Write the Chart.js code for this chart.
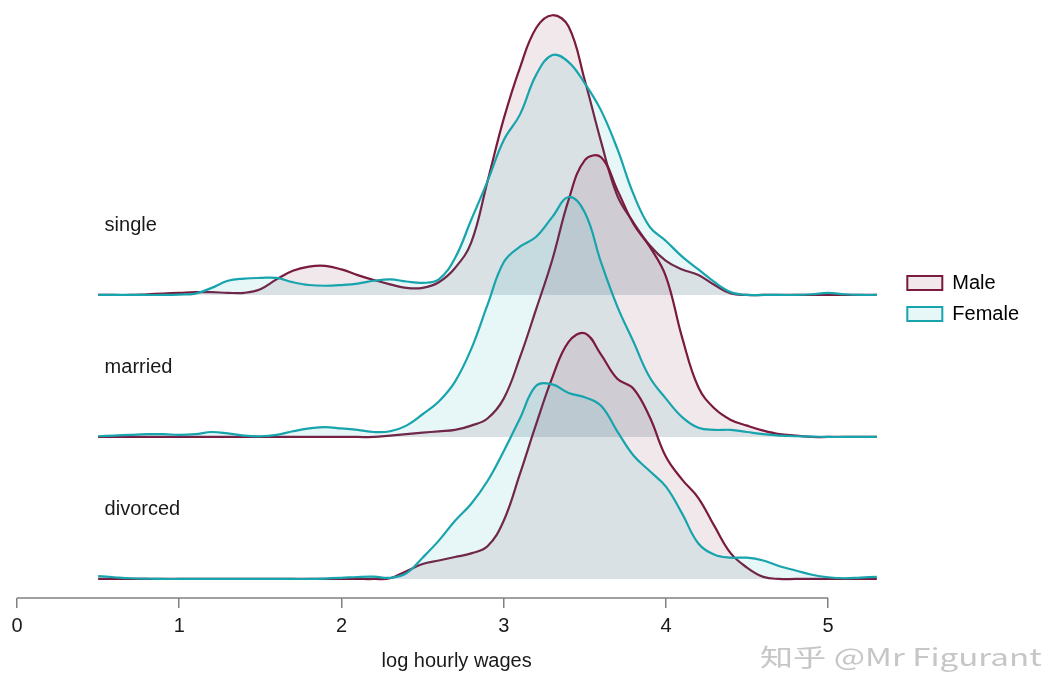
<!DOCTYPE html>
<html>
<head>
<meta charset="utf-8">
<script src="https://cdn.jsdelivr.net/npm/chart.js@4.4.0/dist/chart.umd.min.js"></script>
<style>
  html, body { margin: 0; padding: 0; background: #fff; }
  canvas { display: block; }
</style>
</head>
<body>
<canvas id="chart" width="1050" height="675"></canvas>
<script>
// log hourly wage grid (x positions of the density estimates)
const wages = [0.5, 0.6, 0.7, 0.8, 0.9, 1.0, 1.1, 1.2, 1.3, 1.4,
  1.5, 1.6, 1.7, 1.8, 1.9, 2.0, 2.1, 2.2, 2.3, 2.4,
  2.5, 2.6, 2.7, 2.8, 2.9, 3.0, 3.1, 3.2, 3.3, 3.4,
  3.5, 3.6, 3.7, 3.8, 3.9, 4.0, 4.1, 4.2, 4.3, 4.4,
  4.5, 4.6, 4.7, 4.8, 4.9, 5.0, 5.1, 5.2, 5.3];

const groups = ["single", "married", "divorced"];
const groupOffsets = [2, 1, 0];
const xTicks = [0, 1, 2, 3, 4, 5];

// density heights (one ridge spacing = 1)
const singleMale = [0, 0, 0, 0.005, 0.01, 0.015, 0.02, 0.02, 0.015, 0.015,
  0.04, 0.11, 0.17, 0.2, 0.205, 0.18, 0.14, 0.105, 0.075, 0.05,
  0.05, 0.09, 0.19, 0.37, 0.8, 1.24, 1.6, 1.88, 1.97, 1.89,
  1.51, 1.08, 0.7, 0.51, 0.35, 0.24, 0.18, 0.14, 0.07, 0.01,
  0, 0, 0, 0, 0, 0, 0, 0, 0];
const singleFemale = [0, 0, 0, 0, 0, 0.003, 0.01, 0.05, 0.1, 0.115,
  0.12, 0.12, 0.09, 0.07, 0.065, 0.07, 0.08, 0.1, 0.11, 0.095,
  0.085, 0.11, 0.26, 0.53, 0.8, 1.09, 1.27, 1.55, 1.69, 1.64,
  1.49, 1.3, 1.03, 0.71, 0.48, 0.38, 0.27, 0.18, 0.09, 0.02,
  0, 0, 0, 0, 0.005, 0.015, 0.005, 0, 0];
const marriedMale = [0, 0, 0, 0, 0, 0, 0, 0, 0, 0,
  0, 0, 0, 0, 0, 0, 0, 0, 0.01, 0.02,
  0.03, 0.04, 0.05, 0.08, 0.13, 0.27, 0.56, 0.9, 1.25, 1.67,
  1.95, 1.97, 1.74, 1.5, 1.34, 1.13, 0.7, 0.35, 0.2, 0.12,
  0.08, 0.045, 0.02, 0.01, 0, 0, 0, 0, 0];
const marriedFemale = [0.005, 0.01, 0.015, 0.02, 0.02, 0.015, 0.02, 0.035, 0.025, 0.01,
  0.005, 0.015, 0.04, 0.06, 0.07, 0.06, 0.05, 0.035, 0.04, 0.08,
  0.16, 0.25, 0.39, 0.62, 0.93, 1.23, 1.34, 1.41, 1.55, 1.69,
  1.58, 1.23, 0.92, 0.67, 0.42, 0.27, 0.14, 0.065, 0.05, 0.05,
  0.035, 0.02, 0.01, 0.005, 0.003, 0, 0, 0, 0];
const divorcedMale = [0, 0, 0, 0, 0, 0, 0, 0, 0, 0,
  0, 0, 0, 0, 0, 0, 0, 0, 0.005, 0.055,
  0.105, 0.13, 0.155, 0.18, 0.23, 0.41, 0.74, 1.09, 1.42, 1.67,
  1.73, 1.58, 1.41, 1.34, 1.14, 0.86, 0.7, 0.57, 0.37, 0.18,
  0.08, 0.015, 0, 0, 0, 0, 0, 0, 0];
const divorcedFemale = [0.02, 0.012, 0.005, 0.002, 0, 0, 0, 0, 0, 0,
  0, 0, 0, 0, 0.003, 0.008, 0.014, 0.016, 0.008, 0.04,
  0.15, 0.27, 0.41, 0.53, 0.69, 0.9, 1.13, 1.36, 1.37, 1.31,
  1.28, 1.22, 1.04, 0.87, 0.76, 0.65, 0.46, 0.25, 0.17, 0.15,
  0.15, 0.13, 0.09, 0.06, 0.03, 0.012, 0.005, 0.01, 0.015];

const maleSeries = [singleMale, marriedMale, divorcedMale];
const femaleSeries = [singleFemale, marriedFemale, divorcedFemale];

const maleColor = "#7a1a3e";
const femaleColor = "#17a4ad";
const maleFill = "rgba(122, 26, 62, 0.1)";
const femaleFill = "rgba(23, 164, 173, 0.1)";
const textColor = "#1a1a1a";
const axisColor = "#808080";
const font = '"Liberation Sans", Arial, sans-serif';

function ridge(label, vals, off, color, fill, order) {
  return {
    label: label,
    data: wages.map((w, i) => ({ x: w, y: off + vals[i] })),
    borderColor: color,
    backgroundColor: fill,
    borderWidth: 2.2,
    pointRadius: 0,
    tension: 0.4,
    fill: { value: off },
    order: order
  };
}

const datasets = [];
groups.forEach((g, i) => {
  const off = groupOffsets[i];
  datasets.push(ridge("Male", maleSeries[i], off, maleColor, maleFill, 6 - 2 * i));
  datasets.push(ridge("Female", femaleSeries[i], off, femaleColor, femaleFill, 5 - 2 * i));
});

// axis line from first to last tick, ridge names, watermark
const extras = {
  id: "extras",
  afterLayout(chart) {
    // nudge legend up a little
    chart.legend.top -= 3;
    chart.legend.bottom -= 3;
  },
  afterDraw(chart) {
    const { ctx, chartArea } = chart;
    const x = chart.scales.x, y = chart.scales.y;
    ctx.save();
    ctx.strokeStyle = axisColor;
    ctx.lineWidth = 1.5;
    ctx.beginPath();
    ctx.moveTo(x.getPixelForValue(xTicks[0]), chartArea.bottom);
    ctx.lineTo(x.getPixelForValue(xTicks[xTicks.length - 1]), chartArea.bottom);
    ctx.stroke();

    ctx.fillStyle = textColor;
    ctx.font = "20px " + font;
    ctx.textAlign = "left";
    ctx.textBaseline = "alphabetic";
    groups.forEach((g, i) => {
      ctx.fillText(g, x.getPixelForValue(0.54), y.getPixelForValue(groupOffsets[i] + 0.45));
    });

    ctx.translate(760, 666);
    ctx.scale(1.38, 1);
    ctx.font = '24px "Noto Sans CJK SC", sans-serif';
    ctx.fillStyle = "#c6c6c6";
    ctx.fillText("知乎 @Mr Figurant", 0, 0);
    ctx.restore();
  }
};

new Chart(document.getElementById("chart").getContext("2d"), {
  type: "line",
  data: { datasets: datasets },
  options: {
    responsive: false,
    animation: false,
    layout: { padding: { left: 17, right: 21, top: 5, bottom: 0 } },
    plugins: {
      tooltip: { enabled: false },
      legend: {
        position: "right",
        fullSize: false,
        labels: {
          boxWidth: 35,
          boxHeight: 14,
          padding: 11,
          color: textColor,
          font: { size: 20, family: font },
          generateLabels: () => [
            { text: "Male", fillStyle: maleFill, strokeStyle: maleColor, lineWidth: 2, hidden: false, datasetIndex: 0 },
            { text: "Female", fillStyle: femaleFill, strokeStyle: femaleColor, lineWidth: 2, hidden: false, datasetIndex: 1 }
          ]
        }
      }
    },
    scales: {
      x: {
        type: "linear",
        min: 0,
        max: 5.42,
        afterBuildTicks: s => { s.ticks = xTicks.map(v => ({ value: v })); },
        border: { display: false },
        grid: { drawOnChartArea: false, drawTicks: true, tickLength: 10, color: axisColor, lineWidth: 1.5 },
        ticks: { color: textColor, font: { size: 20, family: font }, padding: 6, maxRotation: 0 },
        title: { display: true, text: "log hourly wages", color: textColor, font: { size: 20, family: font }, padding: { top: 5, bottom: 2 } }
      },
      y: {
        type: "linear",
        display: false,
        min: -0.134,
        max: 4.042
      }
    }
  },
  plugins: [extras]
});
</script>
</body>
</html>
